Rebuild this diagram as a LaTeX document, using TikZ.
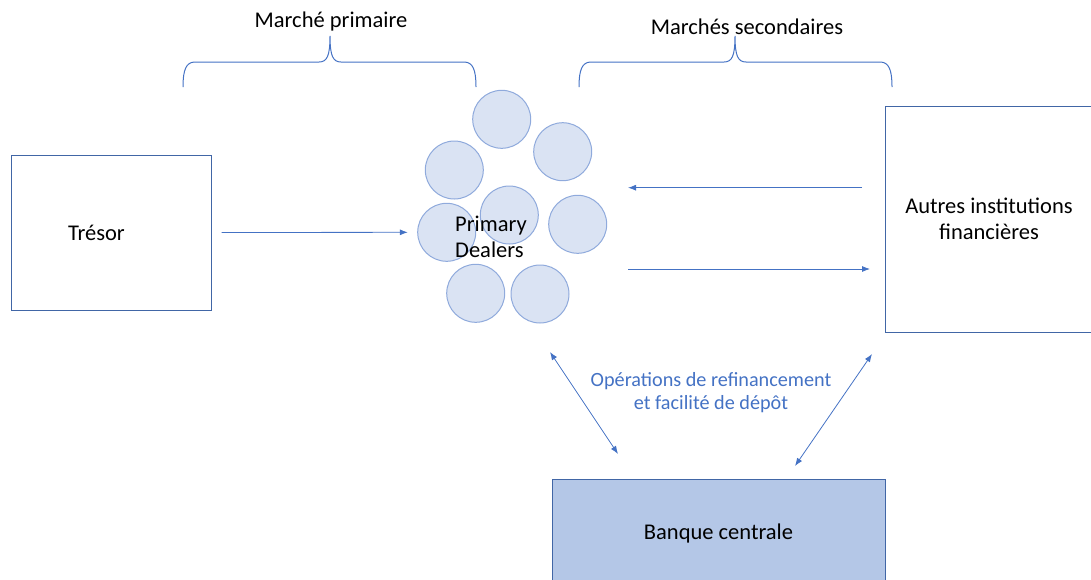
\documentclass[tikz,border=0pt]{standalone}
\usepackage{fontspec}
\setmainfont{Carlito}
\usetikzlibrary{arrows.meta}
\newlength{\du}
\setlength{\du}{1pt}

\begin{document}
\begin{tikzpicture}
\pgftransformxscale{1.000000}
\pgftransformyscale{-1.000000}
\definecolor{dialinecolor}{rgb}{0.266667, 0.447059, 0.768627}
\definecolor{boxcolor}{rgb}{0.254902, 0.400000, 0.650980}
\definecolor{dealerfill}{rgb}{0.854902, 0.890196, 0.952941}
\definecolor{dealerline}{rgb}{0.560784, 0.666667, 0.862745}
\definecolor{bankfill}{rgb}{0.705882, 0.780392, 0.905882}
\tikzset{
  boxstyle/.style={draw=boxcolor, line width=1.000000\du, inner sep=0pt},
  dealer/.style={circle, inner sep=0pt, minimum size=58.000000\du},
  flow/.style={draw=dialinecolor, line width=0.800000\du, -{Latex[length=8pt,width=6pt]}},
  twoway/.style={flow, {Latex[length=8pt,width=6pt]}-{Latex[length=8pt,width=6pt]}},
  brace/.style={draw=dialinecolor, line width=1.000000\du},
  txt/.style={font=\fontsize{22.5}{26}\selectfont, inner sep=0pt},
}
\useasboundingbox (0.000000\du,0.000000\du) rectangle (1091.000000\du,579.000000\du);
% boxes
\node[boxstyle, txt, minimum width=200.000000\du, minimum height=155.000000\du, text width=86.000000\du, inner xsep=57.000000\du, align=left] (tresor) at (111.000000\du,232.500000\du) {Trésor};
\node[boxstyle, txt, minimum width=208.000000\du, minimum height=226.000000\du, align=center] (autres) at (989.000000\du,219.000000\du) {Autres institutions\\financières};
\node[boxstyle, txt, fill=bankfill, minimum width=333.000000\du, minimum height=108.000000\du] (banque) at (718.500000\du,533.000000\du) {Banque centrale};
% primary dealers
\foreach \i/\x/\y in {1/501.7/119.3, 2/562.7/151.7, 3/454.3/170.0, 4/509.3/215.0, 5/446.7/232.3, 6/577.7/224.3, 7/475.7/293.3, 8/540.0/294.0}
  \node[dealer, fill=dealerfill] (pd\i) at (\x\du,\y\du) {};
\foreach \i in {1,...,8}
  \draw[dealerline, line width=1.000000\du] (pd\i.center) circle (29.000000\du);
\node[txt, anchor=west, align=left] (pdtext) at (455.000000\du,237.000000\du) {Primary\\Dealers};
% braces
\draw[brace] (183.000000\du,87.000000\du) .. controls (183.000000\du,70.000000\du) and (186.000000\du,62.000000\du) .. (195.000000\du,62.000000\du) -- (319.000000\du,62.000000\du) .. controls (327.000000\du,62.000000\du) and (330.000000\du,56.000000\du) .. (330.000000\du,36.000000\du) .. controls (330.000000\du,56.000000\du) and (333.000000\du,62.000000\du) .. (341.000000\du,62.000000\du) -- (464.000000\du,62.000000\du) .. controls (473.000000\du,62.000000\du) and (476.000000\du,70.000000\du) .. (476.000000\du,87.000000\du);
\node[txt] (primaire) at (331.000000\du,21.000000\du) {Marché primaire};
\draw[brace] (579.000000\du,87.000000\du) .. controls (579.000000\du,70.000000\du) and (582.000000\du,62.000000\du) .. (591.000000\du,62.000000\du) -- (724.000000\du,62.000000\du) .. controls (732.000000\du,62.000000\du) and (735.000000\du,56.000000\du) .. (735.000000\du,36.000000\du) .. controls (735.000000\du,56.000000\du) and (738.000000\du,62.000000\du) .. (746.000000\du,62.000000\du) -- (880.000000\du,62.000000\du) .. controls (889.000000\du,62.000000\du) and (892.000000\du,70.000000\du) .. (892.000000\du,87.000000\du);
\node[txt] (secondaires) at (747.000000\du,27.000000\du) {Marchés secondaires};
% arrows
\coordinate (sellin) at (628.000000\du,187.700000\du);
\coordinate (sellout) at (862.000000\du,187.700000\du);
\coordinate (buyout) at (628.000000\du,269.000000\du);
\coordinate (buyin) at (870.000000\du,269.000000\du);
\coordinate (refiA) at (550.000000\du,352.000000\du);
\coordinate (refiB) at (618.000000\du,454.000000\du);
\coordinate (refiC) at (872.000000\du,354.000000\du);
\coordinate (refiD) at (795.000000\du,466.000000\du);
\draw[flow, shorten <=10pt, shorten >=9.7pt] (tresor.east) -- (pd5.west);
\draw[flow] (sellout) -- (sellin);
\draw[flow] (buyout) -- (buyin);
\draw[twoway] (refiA) -- (refiB);
\draw[twoway] (refiC) -- (refiD);
\node[txt, text=dialinecolor, align=center, font=\fontsize{20.2}{23.4}\selectfont] (refi) at (711.000000\du,392.500000\du) {Opérations de refinancement\\et facilité de dépôt};
\end{tikzpicture}
\end{document}
